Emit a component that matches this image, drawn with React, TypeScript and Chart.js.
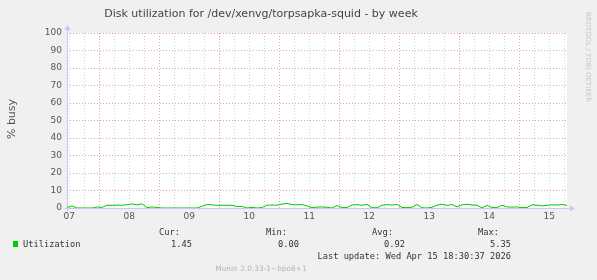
import React, { useEffect, useRef } from 'react';
import { Chart, registerables } from 'chart.js';

Chart.register(...registerables);

const TITLE = 'Disk utilization for /dev/xenvg/torpsapka-squid - by week';
const Y_LABEL = '% busy';
const SERIES_NAME = 'Utilization';
const WATERMARK = 'RRDTOOL / TOBI OETIKER';
const LAST_UPDATE = 'Last update: Wed Apr 15 18:30:37 2026';
const FOOTER = 'Munin 2.0.33-1~bpo8+1';

// time axis: hours relative to Apr 08 00:00
const X_MIN = -12.9;
const X_MAX = 187.1;
const FIRST_MIDNIGHT_DAY = 8;
const START_HOUR = -12.9;
const STEP_HOURS = 2;

const Y_MIN = 0;
const Y_MAX = 100;

const statHeaders = ['Cur:', 'Min:', 'Avg:', 'Max:'];
const statValues = ['1.45', '0.00', '0.92', '5.35'];

const utilization = [
  0.3, 1.2, 0, 0, 0, 0, 0.6, 0.3, 1.6, 1.5,
  1.7, 1.6, 1.9, 2.3, 1.8, 2.4, 0.2, 0.6, 0.3, 0,
  0, 0, 0, 0, 0, 0, 0, 1.0, 2.0, 1.8,
  1.5, 1.6, 1.5, 1.6, 0.8, 0.9, 0, 0.4, 0, 0.3,
  1.6, 1.7, 1.6, 2.2, 2.6, 1.9, 1.8, 2.0, 1.2, 0.2,
  0.5, 0.6, 0.4, 0, 1.4, 0.2, 0.3, 1.7, 1.9, 1.6,
  2.0, 0.2, 0.1, 1.6, 1.9, 1.7, 2.0, 0.3, 0.2, 0.4,
  2.0, 0.2, 0, 0.4, 1.6, 2.2, 1.5, 2.0, 0.6, 1.8,
  2.1, 1.7, 1.6, 0.1, 1.5, 0.3, 0.2, 1.6, 0.6, 0.5,
  0.6, 0.2, 0.3, 1.8, 1.6, 1.2, 1.6, 1.8, 1.7, 2.0,
  1.45,
];

const MAJOR = 'rgba(222,120,120,0.7)';
const MINOR = 'rgba(175,175,175,0.55)';
const AXIS = '#C4C8F2';
const TEXT = '#555555';

const decor = {
  id: 'decor',
  beforeDraw(chart: any) {
    const { ctx, chartArea: a } = chart;
    ctx.save();
    ctx.fillStyle = '#F0F0F0';
    ctx.fillRect(0, 0, chart.width, chart.height);
    ctx.fillStyle = '#FFFFFF';
    ctx.fillRect(a.left, a.top, a.right - a.left, a.bottom - a.top);
    ctx.restore();
  },
  beforeDatasetsDraw(chart: any) {
    const { ctx, chartArea: a } = chart;
    ctx.save();
    ctx.strokeStyle = AXIS;
    ctx.fillStyle = AXIS;
    ctx.lineWidth = 1;
    const x0 = Math.round(a.left) + 0.5;
    const y0 = Math.round(a.bottom) + 0.5;
    ctx.beginPath();
    ctx.moveTo(x0, y0 + 3);
    ctx.lineTo(x0, a.top - 4);
    ctx.moveTo(x0 - 3, y0);
    ctx.lineTo(a.right + 4, y0);
    ctx.stroke();
    ctx.beginPath();
    ctx.moveTo(x0 - 3, a.top - 3);
    ctx.lineTo(x0 + 3, a.top - 3);
    ctx.lineTo(x0, a.top - 8);
    ctx.closePath();
    ctx.fill();
    ctx.beginPath();
    ctx.moveTo(a.right + 3, y0 - 3);
    ctx.lineTo(a.right + 3, y0 + 3);
    ctx.lineTo(a.right + 8, y0);
    ctx.closePath();
    ctx.fill();
    ctx.restore();
  },
  afterDraw(chart: any) {
    const { ctx } = chart;
    ctx.save();
    ctx.fillStyle = '#444444';
    ctx.font = '11px "DejaVu Sans"';
    ctx.textAlign = 'center';
    ctx.textBaseline = 'middle';
    ctx.fillText(TITLE, 261, 14);

    ctx.save();
    ctx.translate(12, 119);
    ctx.rotate(-Math.PI / 2);
    ctx.fillStyle = TEXT;
    ctx.font = '11px "DejaVu Sans"';
    ctx.fillText(Y_LABEL, 0, 0);
    ctx.restore();

    ctx.save();
    ctx.translate(588, 57);
    ctx.rotate(Math.PI / 2);
    ctx.fillStyle = '#C8C8C8';
    ctx.font = '7px "DejaVu Sans"';
    ctx.fillText(WATERMARK, 0, 0);
    ctx.restore();

    ctx.font = '8.7px "DejaVu Sans Mono"';
    ctx.fillStyle = '#00CC00';
    ctx.fillRect(13, 241, 5, 6);
    ctx.fillStyle = '#333333';
    ctx.textAlign = 'left';
    ctx.fillText(SERIES_NAME, 23, 245);
    ctx.textAlign = 'right';
    const headerRight = [180, 287, 393, 499];
    const valueRight = [192, 299, 405, 511];
    statHeaders.forEach((h, i) => ctx.fillText(h, headerRight[i], 233));
    statValues.forEach((v, i) => ctx.fillText(v, valueRight[i], 245));
    ctx.fillText(LAST_UPDATE, 511, 257);

    ctx.textAlign = 'center';
    ctx.fillStyle = '#B4B4B4';
    ctx.font = '7.4px "DejaVu Sans"';
    ctx.fillText(FOOTER, 261, 269);
    ctx.restore();
  },
};

export default function App() {
  const ref = useRef<HTMLCanvasElement>(null);
  useEffect(() => {
    document.body.style.margin = '0';
    const chart = new Chart(ref.current as HTMLCanvasElement, {
      type: 'line',
      data: {
        datasets: [
          {
            label: SERIES_NAME,
            data: utilization.map((v, i) => ({ x: START_HOUR + i * STEP_HOURS, y: v })),
            borderColor: '#00CC00',
            borderWidth: 1,
            pointRadius: 0,
            tension: 0,
            fill: false,
          },
        ],
      },
      options: {
        responsive: false,
        animation: false,
        devicePixelRatio: 1,
        layout: { padding: { left: 0, right: 30, top: 33, bottom: 52 } },
        plugins: { legend: { display: false }, tooltip: { enabled: false }, title: { display: false } },
        scales: {
          x: {
            type: 'linear',
            min: X_MIN,
            max: X_MAX,
            afterBuildTicks: (s: any) => {
              const t: any[] = [];
              for (let v = -12; v <= X_MAX; v += 6) t.push({ value: v });
              s.ticks = t;
            },
            afterFit: (s: any) => {
              s.height = 20;
            },
            grid: {
              drawTicks: false,
              lineWidth: 1,
              color: (c: any) => (((c.tick.value % 24) + 24) % 24 === 0 ? MAJOR : MINOR),
            },
            border: { display: false, dash: [1, 2] },
            ticks: {
              autoSkip: false,
              maxRotation: 0,
              padding: 3,
              color: TEXT,
              font: { family: 'DejaVu Sans', size: 9 },
              callback: (v: any) => {
                const n = Number(v);
                if (((n % 24) + 24) % 24 !== 12) return '';
                const d = FIRST_MIDNIGHT_DAY + Math.floor(n / 24);
                return String(d).padStart(2, '0');
              },
            },
          },
          y: {
            min: Y_MIN,
            max: Y_MAX,
            afterBuildTicks: (s: any) => {
              const t: any[] = [];
              for (let v = Y_MIN; v <= Y_MAX; v += 5) t.push({ value: v });
              s.ticks = t;
            },
            afterFit: (s: any) => {
              s.width = 67;
            },
            grid: {
              drawTicks: false,
              lineWidth: 1,
              color: (c: any) => (c.tick.value % 10 === 0 ? MAJOR : MINOR),
            },
            border: { display: false, dash: [1, 2] },
            ticks: {
              padding: 5,
              color: TEXT,
              font: { family: 'DejaVu Sans', size: 9 },
              callback: (v: any) => (Number(v) % 10 === 0 ? String(v) : ''),
            },
          },
        },
      },
      plugins: [decor],
    });
    return () => chart.destroy();
  }, []);
  return (
    <canvas ref={ref} width={597} height={280} style={{ display: 'block', width: 597, height: 280 }} />
  );
}
